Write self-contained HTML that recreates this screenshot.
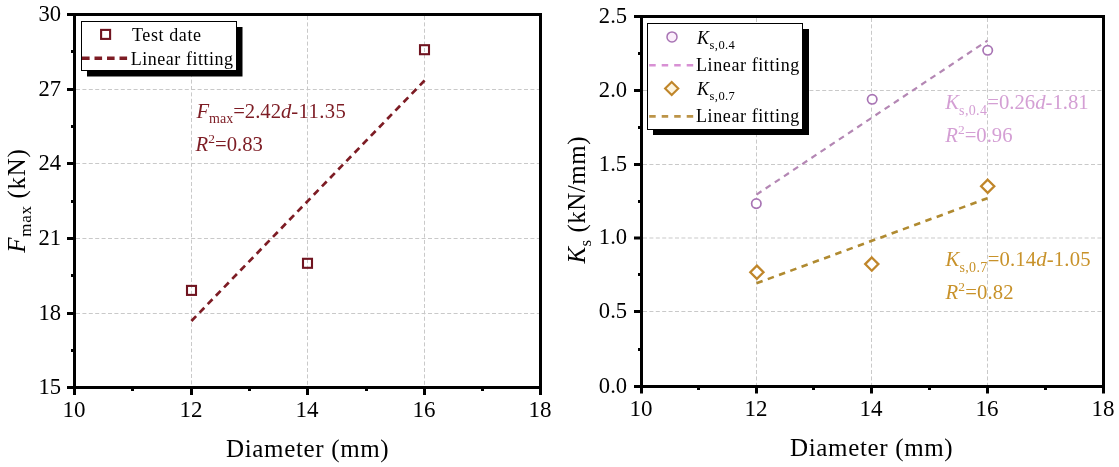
<!DOCTYPE html>
<html><head><meta charset="utf-8"><style>
html,body{margin:0;padding:0;background:#fff;width:1119px;height:467px;overflow:hidden}
svg{display:block;will-change:transform}
text{font-family:"Liberation Serif",serif;}
</style></head><body>
<svg width="1119" height="467" viewBox="0 0 1119 467">

<g stroke="#c9c9c9" stroke-width="1" stroke-dasharray="4 2.4" fill="none"><line x1="191.5" y1="22" x2="191.5" y2="386.0"/><line x1="307.5" y1="16.0" x2="307.5" y2="386.0"/><line x1="424.5" y1="16.0" x2="424.5" y2="386.0"/><line x1="76.0" y1="313.5" x2="539.0" y2="313.5"/><line x1="76.0" y1="238.5" x2="539.0" y2="238.5"/><line x1="76.0" y1="163.5" x2="539.0" y2="163.5"/><line x1="76.0" y1="89.5" x2="539.0" y2="89.5"/></g>
<rect x="74.5" y="14.5" width="466.0" height="373.0" fill="none" stroke="#000" stroke-width="3"/>
<g stroke="#000" stroke-width="3"><line x1="74.5" y1="387.5" x2="74.5" y2="395.0"/><line x1="191.5" y1="387.5" x2="191.5" y2="395.0"/><line x1="307.5" y1="387.5" x2="307.5" y2="395.0"/><line x1="424.5" y1="387.5" x2="424.5" y2="395.0"/><line x1="540.5" y1="387.5" x2="540.5" y2="395.0"/><line x1="132.5" y1="387.5" x2="132.5" y2="391.0"/><line x1="249.5" y1="387.5" x2="249.5" y2="391.0"/><line x1="366.5" y1="387.5" x2="366.5" y2="391.0"/><line x1="482.5" y1="387.5" x2="482.5" y2="391.0"/><line x1="74.5" y1="387.5" x2="67.0" y2="387.5"/><line x1="74.5" y1="313.5" x2="67.0" y2="313.5"/><line x1="74.5" y1="238.5" x2="67.0" y2="238.5"/><line x1="74.5" y1="163.5" x2="67.0" y2="163.5"/><line x1="74.5" y1="89.5" x2="67.0" y2="89.5"/><line x1="74.5" y1="14.5" x2="67.0" y2="14.5"/><line x1="74.5" y1="51.5" x2="71.0" y2="51.5"/><line x1="74.5" y1="126.5" x2="71.0" y2="126.5"/><line x1="74.5" y1="201.5" x2="71.0" y2="201.5"/><line x1="74.5" y1="275.5" x2="71.0" y2="275.5"/><line x1="74.5" y1="350.5" x2="71.0" y2="350.5"/></g>
<g font-size="22" fill="#000"><text x="61.1" y="393.70" font-size="22.6" text-anchor="end">15</text><text x="61.1" y="319.70" font-size="22.6" text-anchor="end">18</text><text x="61.1" y="244.70" font-size="22.6" text-anchor="end">21</text><text x="61.1" y="169.70" font-size="22.6" text-anchor="end">24</text><text x="61.1" y="95.70" font-size="22.6" text-anchor="end">27</text><text x="61.1" y="20.70" font-size="22.6" text-anchor="end">30</text><text x="73.9" y="417.2" font-size="23" text-anchor="middle">10</text><text x="190.9" y="417.2" font-size="23" text-anchor="middle">12</text><text x="306.9" y="417.2" font-size="23" text-anchor="middle">14</text><text x="423.9" y="417.2" font-size="23" text-anchor="middle">16</text><text x="539.9" y="417.2" font-size="23" text-anchor="middle">18</text></g>
<text x="307.7" y="456.7" font-size="25" letter-spacing="0.65" text-anchor="middle">Diameter (mm)</text>
<g transform="translate(24.7,200.6) rotate(-90)"><text x="0" y="0" font-size="25" letter-spacing="0.7" text-anchor="middle"><tspan font-style="italic">F</tspan><tspan font-size="17" dy="6">max</tspan><tspan dy="-6"> (kN)</tspan></text></g>
<line x1="191.4" y1="321" x2="424.6" y2="80.5" stroke="#7d1c24" stroke-width="2.7" stroke-dasharray="6.8 4.92"/>
<rect x="187.00" y="285.90" width="9" height="9" fill="none" stroke="#701420" stroke-width="2.1"/>
<rect x="303.00" y="258.80" width="9" height="9" fill="none" stroke="#701420" stroke-width="2.1"/>
<rect x="420.00" y="45.20" width="9" height="9" fill="none" stroke="#701420" stroke-width="2.1"/>
<rect x="87" y="27" width="155.5" height="49.5" fill="#000"/>
<rect x="81.5" y="21.5" width="155" height="49" fill="#fff" stroke="#000" stroke-width="1"/>
<rect x="101.1" y="29.9" width="9" height="9" fill="none" stroke="#701420" stroke-width="2.1"/>
<line x1="82" y1="58.3" x2="128" y2="58.3" stroke="#7d1c24" stroke-width="3.4" stroke-dasharray="7.6 4.9"/>
<g font-size="18" letter-spacing="0.6" fill="#000"><text x="132" y="40.5">Test date</text><text x="130.8" y="64.8" letter-spacing="0.52">Linear fitting</text></g>
<g fill="#7d1c24" font-size="20.7"><text x="196.4" y="117.8"><tspan font-style="italic">F</tspan><tspan font-size="14" dy="5.2">max</tspan><tspan dy="-5.2">=2.42</tspan><tspan font-style="italic">d</tspan><tspan letter-spacing="0.35">-11.35</tspan></text><text x="195.6" y="150.5"><tspan font-style="italic">R</tspan><tspan font-size="13.5" dy="-7.6">2</tspan><tspan dy="7.6">=0.83</tspan></text></g>
<g stroke="#c9c9c9" stroke-width="1" stroke-dasharray="4 2.4" fill="none"><line x1="756.5" y1="18.0" x2="756.5" y2="385.0"/><line x1="871.5" y1="18.0" x2="871.5" y2="385.0"/><line x1="987.5" y1="18.0" x2="987.5" y2="385.0"/><line x1="643.0" y1="311.5" x2="1102.0" y2="311.5"/><line x1="643.0" y1="238" x2="1102.0" y2="238"/><line x1="643.0" y1="164.5" x2="1102.0" y2="164.5"/><line x1="643.0" y1="90.5" x2="1102.0" y2="90.5"/></g>
<rect x="641.5" y="16.5" width="462.0" height="370.0" fill="none" stroke="#000" stroke-width="3"/>
<g stroke="#000" stroke-width="3"><line x1="641.5" y1="386.5" x2="641.5" y2="393.5"/><line x1="756.5" y1="386.5" x2="756.5" y2="393.5"/><line x1="871.5" y1="386.5" x2="871.5" y2="393.5"/><line x1="987.5" y1="386.5" x2="987.5" y2="393.5"/><line x1="1103.5" y1="386.5" x2="1103.5" y2="393.5"/><line x1="698.5" y1="386.5" x2="698.5" y2="390.0"/><line x1="813.5" y1="386.5" x2="813.5" y2="390.0"/><line x1="929.5" y1="386.5" x2="929.5" y2="390.0"/><line x1="1045.5" y1="386.5" x2="1045.5" y2="390.0"/><line x1="641.5" y1="386.5" x2="634.0" y2="386.5"/><line x1="641.5" y1="311.5" x2="634.0" y2="311.5"/><line x1="641.5" y1="238" x2="634.0" y2="238"/><line x1="641.5" y1="164.5" x2="634.0" y2="164.5"/><line x1="641.5" y1="90.5" x2="634.0" y2="90.5"/><line x1="641.5" y1="16.5" x2="634.0" y2="16.5"/><line x1="641.5" y1="53.5" x2="638.0" y2="53.5"/><line x1="641.5" y1="127.5" x2="638.0" y2="127.5"/><line x1="641.5" y1="201.5" x2="638.0" y2="201.5"/><line x1="641.5" y1="274.5" x2="638.0" y2="274.5"/><line x1="641.5" y1="349.5" x2="638.0" y2="349.5"/></g>
<g font-size="22" fill="#000"><text x="627.1" y="392.70" font-size="22.6" text-anchor="end">0.0</text><text x="627.1" y="317.70" font-size="22.6" text-anchor="end">0.5</text><text x="627.1" y="244.20" font-size="22.6" text-anchor="end">1.0</text><text x="627.1" y="170.70" font-size="22.6" text-anchor="end">1.5</text><text x="627.1" y="96.70" font-size="22.6" text-anchor="end">2.0</text><text x="627.1" y="22.70" font-size="22.6" text-anchor="end">2.5</text><text x="640.9" y="415.7" font-size="23" text-anchor="middle">10</text><text x="755.9" y="415.7" font-size="23" text-anchor="middle">12</text><text x="870.9" y="415.7" font-size="23" text-anchor="middle">14</text><text x="986.9" y="415.7" font-size="23" text-anchor="middle">16</text><text x="1102.9" y="415.7" font-size="23" text-anchor="middle">18</text></g>
<text x="871.7" y="455.6" font-size="25" letter-spacing="0.65" text-anchor="middle">Diameter (mm)</text>
<g transform="translate(584.7,199.8) rotate(-90)"><text x="0" y="0" font-size="25" letter-spacing="0.5" text-anchor="middle"><tspan font-style="italic">K</tspan><tspan font-size="17" dy="6">s</tspan><tspan dy="-6"> (kN/mm)</tspan></text></g>
<line x1="756.5" y1="194.6" x2="987.5" y2="40.6" stroke="#b487b4" stroke-width="2.2" stroke-dasharray="6 5"/>
<line x1="756.5" y1="283.3" x2="987.5" y2="198.2" stroke="#b08a30" stroke-width="2.6" stroke-dasharray="6.5 5.5"/>
<circle cx="756.3" cy="203.6" r="4.7" fill="#fff" stroke="#a874b4" stroke-width="1.7"/>
<circle cx="872.2" cy="99.3" r="4.7" fill="#fff" stroke="#a874b4" stroke-width="1.7"/>
<circle cx="987.7" cy="50.3" r="4.7" fill="#fff" stroke="#a874b4" stroke-width="1.7"/>
<path d="M756.90 265.60 L763.50 272.20 L756.90 278.80 L750.30 272.20 Z" fill="#fff" stroke="#c0862a" stroke-width="2.3"/>
<path d="M871.80 257.50 L878.40 264.10 L871.80 270.70 L865.20 264.10 Z" fill="#fff" stroke="#c0862a" stroke-width="2.3"/>
<path d="M987.70 179.70 L994.30 186.30 L987.70 192.90 L981.10 186.30 Z" fill="#fff" stroke="#c0862a" stroke-width="2.3"/>
<rect x="653" y="29" width="156" height="106" fill="#000"/>
<rect x="647.5" y="23.5" width="155" height="106" fill="#fff" stroke="#000" stroke-width="1"/>
<circle cx="672" cy="36.9" r="5" fill="#fbeefb" stroke="#a874b4" stroke-width="1.5"/>
<line x1="649.2" y1="65.3" x2="693.5" y2="65.3" stroke="#d890d4" stroke-width="2.5" stroke-dasharray="6.5 6"/>
<path d="M671.7 81.9 L678.3000000000001 88.5 L671.7 95.1 L665.1 88.5 Z" fill="#fdf5e0" stroke="#c0862a" stroke-width="2.1"/>
<line x1="649.2" y1="116.4" x2="693.5" y2="116.4" stroke="#bc9448" stroke-width="2.8" stroke-dasharray="6.5 6"/>
<g font-size="18" letter-spacing="0.6" fill="#000"><text x="697" y="43.9"><tspan font-style="italic">K</tspan><tspan font-size="12.5" letter-spacing="0.4" dy="4.7">s,0.4</tspan></text><text x="696" y="70.5">Linear fitting</text><text x="697" y="95"><tspan font-style="italic">K</tspan><tspan font-size="12.5" letter-spacing="0.4" dy="4.7">s,0.7</tspan></text><text x="696" y="121.6">Linear fitting</text></g>
<g fill="#d49fd4" font-size="20.7" letter-spacing="0"><text x="945.3" y="108.6"><tspan font-style="italic">K</tspan><tspan font-size="14" letter-spacing="0.35" dy="6.6">s,0.4</tspan><tspan dy="-6.6">=0.26</tspan><tspan font-style="italic">d</tspan>-1.81</text><text x="945.3" y="141.8"><tspan font-style="italic">R</tspan><tspan font-size="13.5" dy="-7.6">2</tspan><tspan dy="7.6">=0.96</tspan></text></g>
<g fill="#c8922a" font-size="20.7" letter-spacing="0.15"><text x="945.5" y="265.5"><tspan font-style="italic">K</tspan><tspan font-size="14" letter-spacing="0.35" dy="6.6">s,0.7</tspan><tspan dy="-6.6">=0.14</tspan><tspan font-style="italic">d</tspan>-1.05</text><text x="945.5" y="298.5"><tspan font-style="italic">R</tspan><tspan font-size="13.5" dy="-7.6">2</tspan><tspan dy="7.6">=0.82</tspan></text></g>
</svg></body></html>
